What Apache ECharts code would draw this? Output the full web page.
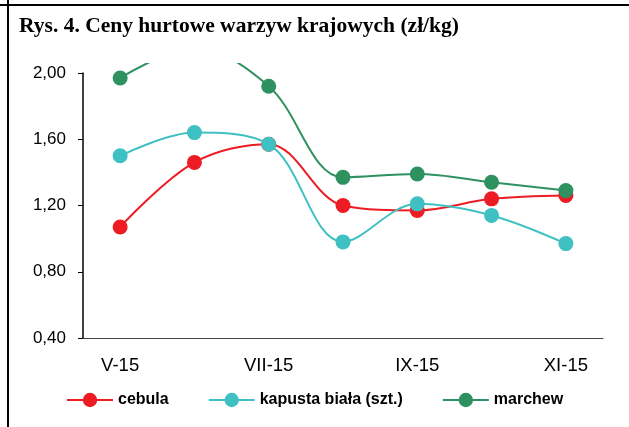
<!DOCTYPE html>
<html>
<head>
<meta charset="utf-8">
<script src="https://cdn.jsdelivr.net/npm/echarts@6/dist/echarts.min.js"></script>
<style>
  html, body { margin: 0; padding: 0; background: #fff; }
  #main { width: 629px; height: 427px; }
</style>
</head>
<body>
<div id="main"></div>
<script>
// dane: ceny hurtowe (zł/kg)
var miesiace = ['V-15', 'VI-15', 'VII-15', 'VIII-15', 'IX-15', 'X-15', 'XI-15'];
var cebula = [1.07, 1.46, 1.57, 1.20, 1.17, 1.24, 1.26];
var kapusta = [1.50, 1.64, 1.57, 0.98, 1.21, 1.14, 0.97];
var marchew = [1.97, 2.15, 1.92, 1.37, 1.39, 1.34, 1.29];
var osY = [0.40, 0.80, 1.20, 1.60, 2.00];

var kolory = ['#ED1C24', '#3FC0C2', '#2E9160'];

// obszar rysowania linii siega troche ponad 2,00 (jak w oryginale)
var gornyZapas = 9;
var nadmiar = gornyZapas * 0.4 / 66.5;

var myChart = echarts.init(document.getElementById('main'));

function seria(nazwa, dane, kolor) {
    return {
        name: nazwa,
        type: 'line',
        xAxisIndex: 1,
        yAxisIndex: 1,
        data: dane,
        smooth: 0.35,
        symbol: 'circle',
        symbolSize: 15,
        clip: true,
        lineStyle: { color: kolor, width: 2 },
        itemStyle: { color: kolor }
    };
}

var czcionka = 'Liberation Sans';

var option = {
    animation: false,
    title: {
        text: 'Rys. 4. Ceny hurtowe warzyw krajowych (zł/kg)',
        left: 19,
        top: 15,
        padding: 0,
        textStyle: {
            fontFamily: 'Liberation Serif',
            fontWeight: 'bold',
            fontSize: 21.5,
            color: '#000'
        }
    },
    graphic: [
        { type: 'line', shape: { x1: 0, y1: 5, x2: 629, y2: 5 }, style: { stroke: '#000', lineWidth: 2 } },
        { type: 'line', shape: { x1: 8, y1: 0, x2: 8, y2: 427 }, style: { stroke: '#000', lineWidth: 2 } }
    ],
    legend: {
        data: ['cebula', 'kapusta biała (szt.)', 'marchew'],
        left: 61,
        top: 387,
        itemWidth: 46,
        itemHeight: 18,
        itemGap: 39,
        textStyle: {
            fontFamily: czcionka,
            fontWeight: 'bold',
            fontSize: 16,
            color: '#000'
        }
    },
    grid: [
        { left: 83, right: 26, top: 73, bottom: 89, outerBoundsMode: 'none' },
        { left: 83, right: 26, top: 73 - gornyZapas, bottom: 89, outerBoundsMode: 'none' }
    ],
    xAxis: [{
        type: 'category',
        gridIndex: 0,
        data: miesiace,
        boundaryGap: true,
        axisLine: { lineStyle: { color: '#444', width: 1 } },
        axisTick: { interval: 1, length: 5, lineStyle: { color: '#444' } },
        axisLabel: {
            interval: 1,
            margin: 18,
            fontFamily: czcionka,
            fontSize: 18.5,
            color: '#000'
        },
        splitLine: { show: false }
    }, {
        type: 'category',
        gridIndex: 1,
        data: miesiace,
        boundaryGap: true,
        show: false
    }],
    yAxis: [{
        type: 'value',
        gridIndex: 0,
        min: osY[0],
        max: osY[osY.length - 1],
        interval: 0.4,
        axisLine: { show: true, lineStyle: { color: '#000', width: 1.5 } },
        axisTick: { show: true, length: 5, lineStyle: { color: '#000' } },
        axisLabel: {
            margin: 17,
            fontFamily: czcionka,
            fontSize: 17,
            color: '#000',
            formatter: function (v) { return v.toFixed(2).replace('.', ','); }
        },
        splitLine: { show: false }
    }, {
        type: 'value',
        gridIndex: 1,
        min: osY[0],
        max: osY[osY.length - 1] + nadmiar,
        show: false,
        splitLine: { show: false }
    }],
    series: [
        seria('cebula', cebula, kolory[0]),
        seria('kapusta biała (szt.)', kapusta, kolory[1]),
        seria('marchew', marchew, kolory[2])
    ]
};
myChart.setOption(option);
</script>
</body>
</html>
